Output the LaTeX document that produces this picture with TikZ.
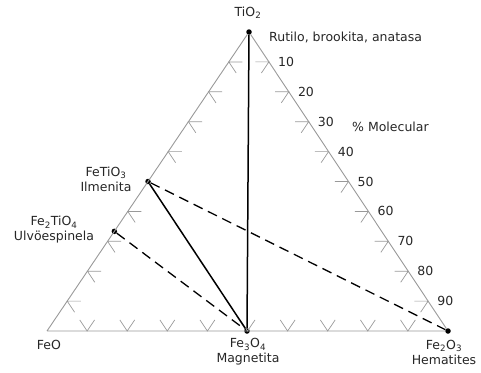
\documentclass[tikz,border=0pt]{standalone}
\usepackage{fontspec}
\setmainfont{DejaVu Sans}
\usetikzlibrary{calc}

\begin{document}
\begin{tikzpicture}[x=1pt,y=-1pt,
  font=\fontsize{12.5}{15}\selectfont,
  dot/.style={circle, fill=black, inner sep=0pt, minimum size=5.5pt},
  lbl/.style={inner sep=1pt, text=black!85},
  side/.style={gray!80, line width=0.9pt},
  tick/.style={gray!80, line width=0.7pt},
  tieline/.style={black, line width=1.5pt},
  tiedash/.style={black, line width=1.3pt, dash pattern=on 10pt off 6pt}]
  \useasboundingbox (0,0) rectangle (481,372);
  % corners and phases
  \coordinate (feo) at (47,331);
  \node[dot] (tio) at (249,32) {};
  \node[dot] (magn) at (247,331) {};
  \node[dot] (hema) at (448,331) {};
  \node[dot] (ilme) at ($(feo)!0.5!(tio)$) {};
  \node[dot] (ulvo) at ($(feo)!1/3!(tio)$) {};
  % triangle
  \draw[side] (feo) -- (tio) -- (hema) -- (feo);
  % ticks
  \foreach \i in {1,...,9} {
    \coordinate (p) at ($(feo)!\i/10!(hema)$);
    \draw[tick] ($(p)+0.037*(tio)-0.037*(hema)$) -- (p) -- ($(p)+0.037*(tio)-0.037*(feo)$);
  }
  \foreach \i in {1,2,3,4,6,7,8,9} {
    \coordinate (p) at ($(feo)!\i/10!(tio)$);
    \draw[tick] ($(p)+0.034*(hema)-0.034*(feo)$) -- (p) -- ($(p)+0.037*(hema)-0.037*(tio)$);
  }
  \foreach \i in {1,...,9} {
    \coordinate (p) at ($(tio)!\i/10!(hema)$);
    \draw[tick] ($(p)+0.034*(feo)-0.034*(hema)$) -- (p) -- ($(p)+0.037*(feo)-0.037*(tio)$);
    \node[lbl, anchor=west] (pct\i) at ($(p)+(8,0)$) {\i0};
  }
  % tie lines
  \draw[tieline] (tio) -- (magn);
  \draw[tieline] (ilme) -- (magn);
  \draw[tiedash] (ilme) -- (hema);
  \draw[tiedash] (ulvo) -- (magn);
  % labels
  \node[lbl] (tiolbl) at (248,13) {TiO\textsubscript{2}};
  \node[lbl, anchor=west] (rutlbl) at (268,37) {Rutilo, brookita, anatasa};
  \node[lbl, anchor=west] (mollbl) at (351,127) {\% Molecular};
  \node[lbl, align=center] (ilmelbl) at (106,179) {FeTiO\textsubscript{3}\\Ilmenita};
  \node[lbl, align=center] (ulvolbl) at (54,230) {Fe\textsubscript{2}TiO\textsubscript{4}\\Ulvöespinela};
  \node[lbl] (feolbl) at (49,345) {FeO};
  \node[lbl, align=center] (magnlbl) at (248,352) {Fe\textsubscript{3}O\textsubscript{4}\\Magnetita};
  \node[lbl, align=center] (hemalbl) at (444,352) {Fe\textsubscript{2}O\textsubscript{3}\\Hematites};
\end{tikzpicture}
\end{document}
